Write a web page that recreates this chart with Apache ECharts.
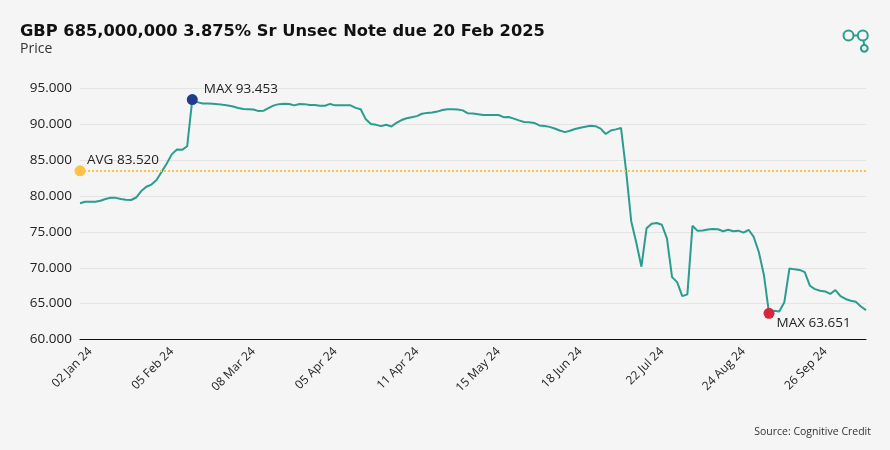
<!DOCTYPE html>
<html>
<head>
<meta charset="utf-8">
<script src="https://cdn.jsdelivr.net/npm/echarts@6/dist/echarts.min.js"></script>
<style>
html,body{margin:0;padding:0;background:#f5f5f5;}
#c{width:890px;height:450px;}
</style>
</head>
<body>
<div id="c"></div>
<script>
const titleText = 'GBP 685,000,000 3.875% Sr Unsec Note due 20 Feb 2025';
const subtitleText = 'Price';
const sourceText = 'Source: Cognitive Credit';
const tickLabels = ['02 Jan 24','05 Feb 24','08 Mar 24','05 Apr 24','11 Apr 24','15 May 24','18 Jun 24','22 Jul 24','24 Aug 24','26 Sep 24'];
const labelStart = 2;
const labelEvery = 16;
const avgValue = 83.520;
const prices = [
79.0,79.2,79.2,79.2,79.35,79.6,79.76,79.75,79.6,79.5,
79.45,79.8,80.7,81.3,81.6,82.25,83.4,84.55,85.85,86.5,
86.45,86.95,93.453,93.1,92.9,92.9,92.87,92.82,92.72,92.63,
92.5,92.28,92.13,92.1,92.06,91.85,91.9,92.3,92.65,92.82,
92.87,92.85,92.65,92.85,92.82,92.7,92.7,92.6,92.6,92.85,
92.65,92.65,92.65,92.65,92.3,92.1,90.7,90.05,89.93,89.75,
89.95,89.7,90.2,90.6,90.85,91.0,91.15,91.48,91.6,91.66,
91.78,92.0,92.12,92.12,92.07,91.95,91.54,91.5,91.42,91.3,
91.3,91.3,91.3,91.0,91.03,90.8,90.55,90.33,90.3,90.2,
89.85,89.76,89.65,89.42,89.15,88.92,89.1,89.35,89.52,89.68,
89.8,89.75,89.4,88.65,89.15,89.3,89.5,83.5,76.5,73.5,
70.15,75.5,76.15,76.25,76.0,74.1,68.7,68.0,66.05,66.3,
75.85,75.15,75.2,75.33,75.4,75.38,75.1,75.3,75.1,75.18,
74.9,75.3,74.3,72.2,69.0,63.651,64.0,63.9,65.2,69.9,
69.78,69.7,69.4,67.5,67.03,66.8,66.7,66.35,66.9,66.05,
65.65,65.4,65.25,64.6,64.1
];
const categories = prices.map((v, i) =>
  ((i - labelStart) % labelEvery === 0 && i >= labelStart) ? tickLabels[(i - labelStart) / labelEvery] : '');

const teal = '#2a9d8f';
const chart = echarts.init(document.getElementById('c'), null, {renderer: 'canvas'});
chart.setOption({
  backgroundColor: '#f5f5f5',
  animation: false,
  textStyle: {fontFamily: 'Open Sans'},
  title: [
    {text: titleText, left: 15, top: 19, textStyle: {fontFamily: 'DejaVu Sans', fontWeight: 'bold', fontSize: 16.3, color: '#111'}},
    {text: subtitleText, left: 15, top: 37, textStyle: {fontFamily: 'Open Sans', fontWeight: 'normal', fontSize: 14, color: '#333'}},
    {text: sourceText, right: 14, top: 422, textStyle: {fontFamily: 'Open Sans', fontWeight: 'normal', fontSize: 10.5, color: '#333'}}
  ],
  grid: {left: 80, right: 24, top: 88.5, bottom: 110.5},
  xAxis: {
    type: 'category',
    data: categories,
    boundaryGap: false,
    axisLine: {lineStyle: {color: '#111', width: 1}},
    axisTick: {show: false},
    axisLabel: {
      interval: (i) => i >= labelStart && (i - labelStart) % labelEvery === 0,
      rotate: 45, fontSize: 12, color: '#222', fontFamily: 'Open Sans', margin: 10
    },
    splitLine: {show: false}
  },
  yAxis: {
    type: 'value', min: 60, max: 95, interval: 5,
    axisLine: {show: false}, axisTick: {show: false},
    axisLabel: {formatter: (v) => v.toFixed(3), fontSize: 13.5, color: '#222', fontFamily: 'Open Sans', margin: 8},
    splitLine: {lineStyle: {color: '#e4e4e4', width: 1}}
  },
  series: [{
    type: 'line',
    data: prices,
    symbol: 'none',
    lineStyle: {color: teal, width: 2},
    markPoint: {
      symbol: 'circle', symbolSize: 11,
      data: [
        {type: 'max', itemStyle: {color: '#1f3c8c'},
         label: {show: true, position: 'right', offset: [2, -10], distance: 4, formatter: (p) => 'MAX ' + p.value.toFixed(3), color: '#222', fontSize: 13.5, fontFamily: 'Open Sans'}},
        {type: 'min', itemStyle: {color: '#d7263d'},
         label: {show: true, position: 'right', offset: [-2, 10], distance: 4, formatter: (p) => 'MAX ' + p.value.toFixed(3), color: '#222', fontSize: 13.5, fontFamily: 'Open Sans'}}
      ]
    },
    markLine: {
      silent: true,
      symbol: ['circle', 'none'], symbolSize: 11,
      lineStyle: {color: '#ffc247', type: 'dotted', width: 2},
      itemStyle: {color: '#ffc247'},
      label: {show: true, position: 'insideStartTop', formatter: 'AVG ' + avgValue.toFixed(3), color: '#222', fontSize: 13.5, fontFamily: 'Open Sans', distance: [7, 4]},
      data: [{yAxis: avgValue}]
    }
  }],
  graphic: [
    {type: 'circle', shape: {cx: 848.5, cy: 35.5, r: 5}, style: {fill: 'none', stroke: teal, lineWidth: 2}},
    {type: 'circle', shape: {cx: 862.8, cy: 35.5, r: 5}, style: {fill: 'none', stroke: teal, lineWidth: 2}},
    {type: 'line', shape: {x1: 853.5, y1: 35.5, x2: 857.8, y2: 35.5}, style: {stroke: teal, lineWidth: 2}},
    {type: 'circle', shape: {cx: 864.3, cy: 48.3, r: 3.4}, style: {fill: 'none', stroke: teal, lineWidth: 2}},
    {type: 'line', shape: {x1: 863.6, y1: 40.5, x2: 864.1, y2: 44.9}, style: {stroke: teal, lineWidth: 2}}
  ]
});
</script>
</body>
</html>
